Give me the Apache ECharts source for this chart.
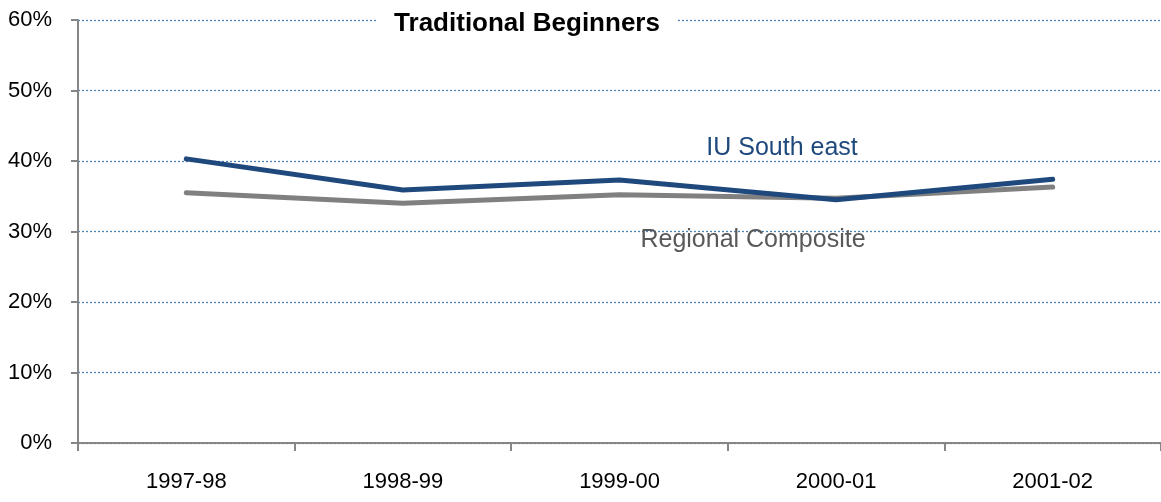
<!DOCTYPE html>
<html>
<head>
<meta charset="utf-8">
<style>
  html, body { margin: 0; padding: 0; background: #fff; }
  #main { width: 1161px; height: 502px; }
</style>
<script src="https://cdn.jsdelivr.net/npm/echarts@6/dist/echarts.min.js"></script>
</head>
<body>
<div id="main"></div>
<script>
// categories (school years)
var years = ['1997-98', '1998-99', '1999-00', '2000-01', '2001-02'];
// percentages
var iuSoutheast = [40.3, 35.9, 37.3, 34.5, 37.4];
var regionalComposite = [35.5, 34.0, 35.2, 34.7, 36.3];
// y axis ticks: 0..60 step 10
var yMin = 0, yMax = 60, yStep = 10;

var font = '"Liberation Sans", Arial, sans-serif';

var myChart = echarts.init(document.getElementById('main'));
myChart.setOption({
    animation: false,
    backgroundColor: '#fff',
    textStyle: {fontFamily: font},
    grid: {left: 78, top: 20, width: 1087, height: 423, containLabel: false},
    xAxis: {
        type: 'category',
        data: years,
        boundaryGap: true,
        axisLine: {lineStyle: {color: '#868686', width: 2}},
        axisTick: {show: true, length: 8, lineStyle: {color: '#868686', width: 2}},
        axisLabel: {color: '#000', fontSize: 22, margin: 28, fontFamily: font},
        splitLine: {show: false}
    },
    yAxis: {
        type: 'value',
        min: yMin,
        max: yMax,
        interval: yStep,
        axisLine: {show: true, lineStyle: {color: '#868686', width: 2}},
        axisTick: {show: true, length: 7, lineStyle: {color: '#868686', width: 2}},
        axisLabel: {
            color: '#000', fontSize: 22, margin: 26, fontFamily: font,
            formatter: function (v) { return v + '%'; }
        },
        splitLine: {lineStyle: {color: '#4F81BD', type: [2, 2], width: 1.3}}
    },
    series: [
        {
            name: 'Regional Composite',
            type: 'line',
            data: regionalComposite,
            symbol: 'none',
            lineStyle: {color: '#808080', width: 5, cap: 'round', join: 'round'},
            z: 3
        },
        {
            name: 'IU South east',
            type: 'line',
            data: iuSoutheast,
            symbol: 'none',
            lineStyle: {color: '#1F497D', width: 5, cap: 'round', join: 'round'},
            z: 4
        }
    ],
    graphic: [
        {
            type: 'rect',
            shape: {x: 378, y: 6, width: 298, height: 30},
            style: {fill: '#fff'},
            z: 100
        },
        {
            type: 'text',
            x: 527, y: 24,
            style: {
                text: 'Traditional Beginners', fill: '#000',
                font: 'bold 26px ' + font,
                textAlign: 'center', textVerticalAlign: 'middle'
            },
            z: 101
        },
        {
            type: 'text',
            x: 782, y: 148,
            style: {
                text: 'IU South east', fill: '#1F497D',
                font: '25px ' + font,
                textAlign: 'center', textVerticalAlign: 'middle'
            },
            z: 101
        },
        {
            type: 'text',
            x: 753, y: 240,
            style: {
                text: 'Regional Composite', fill: '#595959',
                font: '25px ' + font,
                textAlign: 'center', textVerticalAlign: 'middle'
            },
            z: 101
        }
    ]
});
</script>
</body>
</html>
